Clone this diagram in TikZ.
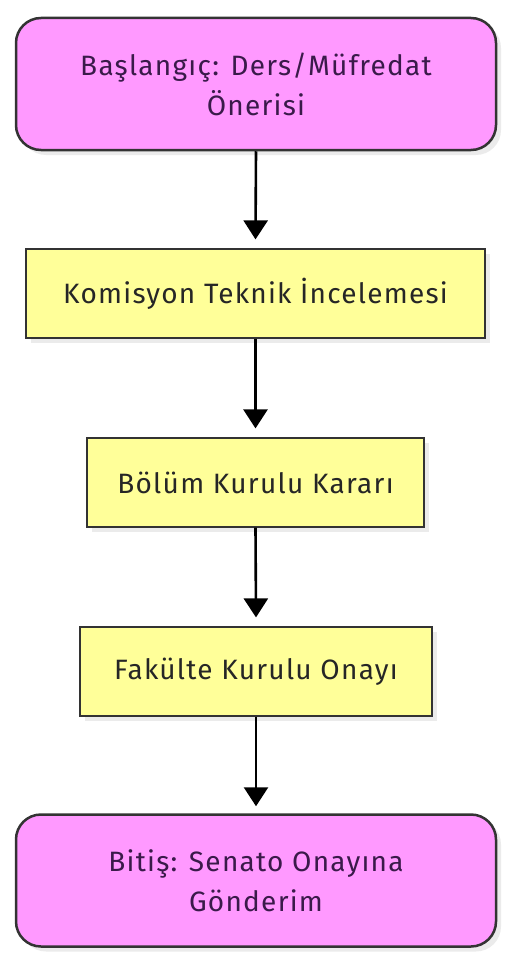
\documentclass[tikz,border=0pt]{standalone}
\usepackage{fontspec}
\setmainfont{Fira Sans}[LetterSpace=4.5]
\usetikzlibrary{arrows.meta,shadows}
\definecolor{pinkfill}{HTML}{FF99FF}
\definecolor{yelfill}{HTML}{FFFF99}
\definecolor{edgegray}{HTML}{333333}
\definecolor{purpletext}{HTML}{3A1A4A}
\tikzset{
  term/.style={draw=edgegray, line width=2.5pt, fill=pinkfill, rounded corners=25pt,
    text=purpletext, font=\fontsize{28}{40}\selectfont, align=center,
    drop shadow={shadow xshift=5pt, shadow yshift=-5pt, fill=black!8, opacity=1}},
  procbox/.style={draw=edgegray, line width=1.2pt, fill=yelfill,
    text=black!85, font=\fontsize{28}{40}\selectfont, align=center,
    drop shadow={shadow xshift=5pt, shadow yshift=-5pt, fill=black!8, opacity=1}},
  flow/.style={line width=2.6pt, -{Triangle[width=24pt,length=19pt]}}
}
\begin{document}
\begin{tikzpicture}[x=1pt,y=-1pt]
\useasboundingbox (0,0) rectangle (512,966);
\node[term, minimum width=480pt, minimum height=132pt] (start) at (256,84) {Başlangıç: Ders/Müfredat\\Önerisi};
\node[procbox, minimum width=459pt, minimum height=89pt] (kom) at (255.5,293.5) {Komisyon Teknik İncelemesi};
\node[procbox, minimum width=337pt, minimum height=89pt] (bol) at (255.5,482.5) {Bölüm Kurulu Kararı};
\node[procbox, minimum width=352pt, minimum height=89pt] (fak) at (256,671.5) {Fakülte Kurulu Onayı};
\node[term, minimum width=480pt, minimum height=132pt] (end) at (256,880.5) {Bitiş: Senato Onayına\\Gönderim};
\draw[flow] (start.south) -- ([yshift=9pt]kom.north);
\draw[flow] (kom.south) -- ([yshift=9pt]bol.north);
\draw[flow] (bol.south) -- ([yshift=9pt]fak.north);
\draw[flow] (fak.south) -- ([yshift=7pt]end.north);
\end{tikzpicture}
\end{document}
